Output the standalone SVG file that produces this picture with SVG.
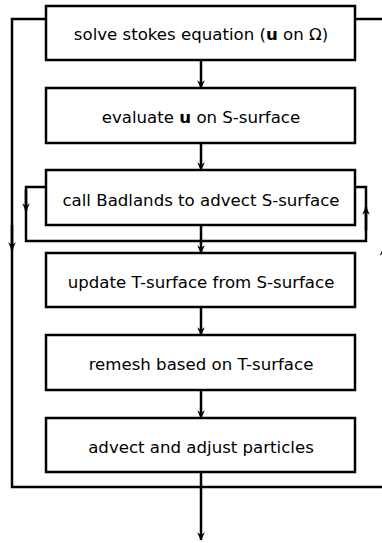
<svg xmlns="http://www.w3.org/2000/svg" width="382" height="543" viewBox="0 0 382 543">
<style>
.box{fill:#fff;stroke:#000;stroke-width:2.5}
.lbl{font-family:"DejaVu Sans",sans-serif;font-size:16.6px;text-anchor:middle;fill:#000}
.ln{fill:none;stroke:#000;stroke-width:2.5}
</style>
<defs>
<marker id="ah" viewBox="0 0 10 10" refX="9" refY="5" markerWidth="3.4" markerHeight="3.4" orient="auto" markerUnits="strokeWidth">
<path d="M0,0.5 L10,5 L0,9.5 L3,5 Z" fill="#000"/>
</marker>
</defs>
<g id="connectors">
<path class="ln" d="M46,19 H12 V487 H386"/>
<path class="ln" d="M355,19 H386"/>
<line class="ln" x1="12" y1="225" x2="12" y2="250" marker-end="url(#ah)"/>
<line class="ln" x1="383.5" y1="275" x2="383.5" y2="248" marker-end="url(#ah)"/>
<path class="ln" d="M46,187 H26 V241 H366 V187 H355"/>
<line class="ln" x1="26" y1="190" x2="26" y2="211" marker-end="url(#ah)"/>
<line class="ln" x1="366" y1="230" x2="366" y2="207" marker-end="url(#ah)"/>
<line class="ln" x1="201" y1="60" x2="201" y2="88" marker-end="url(#ah)"/>
<line class="ln" x1="201" y1="143" x2="201" y2="170" marker-end="url(#ah)"/>
<line class="ln" x1="201" y1="225" x2="201" y2="253" marker-end="url(#ah)"/>
<line class="ln" x1="201" y1="307" x2="201" y2="335" marker-end="url(#ah)"/>
<line class="ln" x1="201" y1="390" x2="201" y2="418" marker-end="url(#ah)"/>
<line class="ln" x1="201" y1="472" x2="201" y2="540" marker-end="url(#ah)"/>
</g>
<g id="n1"><rect class="box" x="46" y="6" width="309" height="54"/><text class="lbl" x="201" y="40">solve stokes equation (<tspan font-weight="bold">u</tspan> on Ω)</text></g>
<g id="n2"><rect class="box" x="46" y="88" width="309" height="55"/><text class="lbl" x="201" y="123">evaluate <tspan font-weight="bold">u</tspan> on S-surface</text></g>
<g id="n3"><rect class="box" x="46" y="170" width="309" height="55"/><text class="lbl" x="201" y="206">call Badlands to advect S-surface</text></g>
<g id="n4"><rect class="box" x="46" y="253" width="309" height="54"/><text class="lbl" x="201" y="288">update T-surface from S-surface</text></g>
<g id="n5"><rect class="box" x="46" y="335" width="309" height="55"/><text class="lbl" x="201" y="370">remesh based on T-surface</text></g>
<g id="n6"><rect class="box" x="46" y="418" width="309" height="54"/><text class="lbl" x="201" y="453">advect and adjust particles</text></g>
</svg>
